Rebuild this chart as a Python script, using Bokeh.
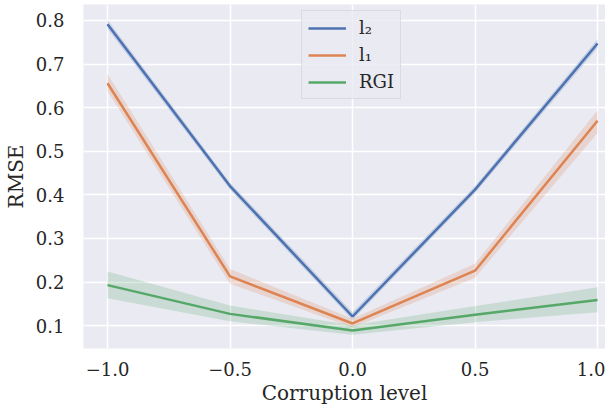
from bokeh.plotting import figure
from bokeh.models import Range1d, FixedTicker, Legend, LegendItem
from bokeh.embed import file_html
from bokeh.resources import INLINE

corruption = [-1.0, -0.5, 0.0, 0.5, 1.0]

l2_mean = [0.791, 0.420, 0.121, 0.412, 0.747]
l2_low = [0.781, 0.412, 0.113, 0.404, 0.737]
l2_high = [0.801, 0.428, 0.131, 0.420, 0.757]

l1_mean = [0.656, 0.213, 0.105, 0.226, 0.570]
l1_low = [0.638, 0.196, 0.096, 0.210, 0.542]
l1_high = [0.677, 0.230, 0.116, 0.242, 0.594]

rgi_mean = [0.193, 0.127, 0.089, 0.125, 0.159]
rgi_low = [0.163, 0.110, 0.079, 0.108, 0.131]
rgi_high = [0.224, 0.146, 0.101, 0.145, 0.188]

x_ticks = [-1.0, -0.5, 0.0, 0.5, 1.0]
y_ticks = [0.1, 0.2, 0.3, 0.4, 0.5, 0.6, 0.7, 0.8]

FONT = "DejaVu Serif"
BG = "#EAEAF2"

p = figure(width=605, height=407, output_backend="svg", toolbar_location=None,
           x_range=Range1d(-1.098, 1.0325), y_range=Range1d(0.0476, 0.8365))
p.min_border_left = 81
p.min_border_right = 0
p.min_border_top = 4
p.min_border_bottom = 57
p.background_fill_color = BG
p.border_fill_color = "white"
p.outline_line_color = None

for ax in (p.xaxis, p.yaxis):
    ax.axis_line_color = None
    ax.major_tick_line_color = None
    ax.minor_tick_line_color = None
    ax.major_tick_out = 0
    ax.major_tick_in = 0
    ax.minor_tick_out = 0
    ax.minor_tick_in = 0
    ax.major_label_text_font = FONT
    ax.major_label_text_font_size = "18px"
    ax.major_label_text_color = "#262626"
    ax.axis_label_text_font = FONT
    ax.axis_label_text_font_size = "20px"
    ax.axis_label_text_font_style = "normal"
    ax.axis_label_text_color = "#262626"

p.xaxis.ticker = FixedTicker(ticks=x_ticks)
p.yaxis.ticker = FixedTicker(ticks=y_ticks)
p.xaxis.major_label_overrides = {-1.0: "\u22121.0", -0.5: "\u22120.5", 0.0: "0.0", 0.5: "0.5", 1.0: "1.0"}
p.xaxis.major_label_standoff = 13
p.yaxis.major_label_standoff = 19
p.xaxis.axis_label = "Corruption level"
p.yaxis.axis_label = "RMSE"
p.xaxis.axis_label_standoff = 2
p.yaxis.axis_label_standoff = 5

p.xgrid.grid_line_color = "white"
p.ygrid.grid_line_color = "white"
p.xgrid.grid_line_width = 1.5
p.ygrid.grid_line_width = 1.5

series = [
    ("l\u2082", l2_mean, l2_low, l2_high, "#4C72B0"),
    ("l\u2081", l1_mean, l1_low, l1_high, "#DD8452"),
    ("RGI", rgi_mean, rgi_low, rgi_high, "#55A868"),
]

items = []
for name, m, lo, hi, c in series:
    p.varea(x=corruption, y1=lo, y2=hi, fill_color=c, fill_alpha=0.22)
    r = p.line(corruption, m, line_color=c, line_width=2.5)
    items.append(LegendItem(label=name, renderers=[r]))

legend = Legend(items=items, location=(218, 249))
legend.label_text_font = FONT
legend.label_text_font_size = "18px"
legend.label_text_color = "#262626"
legend.glyph_width = 38
legend.glyph_height = 20
legend.label_height = 20
legend.label_standoff = 13
legend.spacing = 6
legend.padding = 6
legend.margin = 0
legend.background_fill_color = BG
legend.background_fill_alpha = 0.8
legend.border_line_color = "#CCCCCC"
legend.border_line_width = 1
p.add_layout(legend, "center")

open("out.html", "w").write(file_html(p, INLINE))
